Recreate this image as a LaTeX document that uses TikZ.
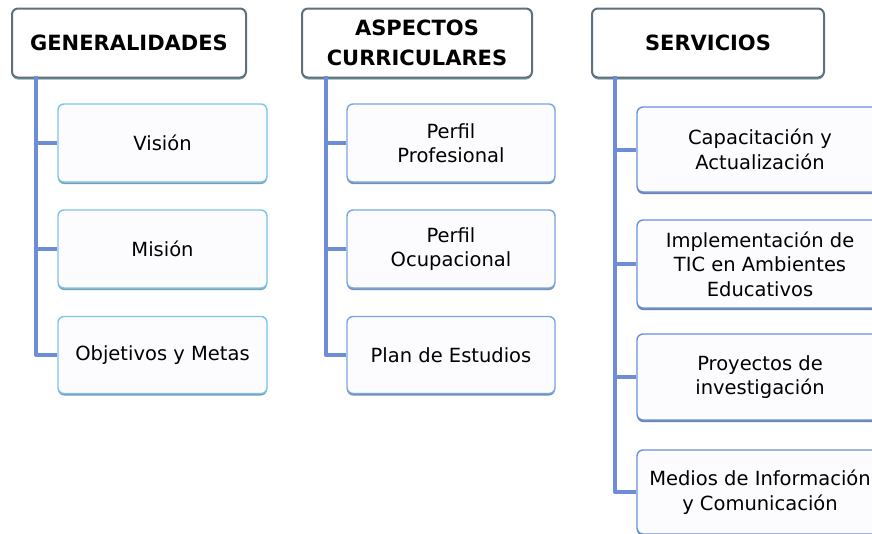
\documentclass[tikz,border=0pt]{standalone}
\usepackage{fontspec}
\setmainfont{DejaVu Sans}
\usetikzlibrary{shadows}
\definecolor{hdrborder}{HTML}{5E707C}
\definecolor{hdrshadow}{HTML}{86A6A8}
\definecolor{cA}{HTML}{7EC4E8}
\definecolor{cB}{HTML}{78A6E2}
\definecolor{cC}{HTML}{6690DA}
\definecolor{trunkcol}{HTML}{6E8DD6}
\definecolor{boxfill}{HTML}{FCFCFF}
\tikzset{
  hdr/.style={draw=hdrborder, line width=2pt, fill=white, rounded corners=6pt,
    minimum height=69pt, inner sep=0pt, align=center,
    font=\fontsize{21}{30}\selectfont\bfseries,
    drop shadow={shadow xshift=0pt, shadow yshift=-2pt, fill=hdrshadow, opacity=1}},
  child/.style={draw=#1, line width=1.4pt, fill=boxfill, rounded corners=6pt,
    inner sep=0pt, align=center, font=\fontsize{19.5}{24.5}\selectfont,
    drop shadow={shadow xshift=0pt, shadow yshift=-2pt, fill=#1!70!black, opacity=0.8}},
  trunk/.style={draw=trunkcol, line width=4pt, line join=round},
}
\begin{document}
\begin{tikzpicture}[x=1pt,y=-1pt]
\useasboundingbox (0,0) rectangle (872,533);
\clip (0,0) rectangle (872,533);
% trunk coordinates
\coordinate (t1) at (36,76);
\coordinate (t2) at (326,76);
\coordinate (t3) at (615,76);
% headers
\node[hdr, minimum width=234pt] (gen) at (129,43) {GENERALIDADES};
\node[hdr, minimum width=230pt] (asp) at (417,43) {ASPECTOS\\CURRICULARES};
\node[hdr, minimum width=232pt] (ser) at (708,43) {SERVICIOS};
% column 1
\node[child=cA, minimum width=209pt, minimum height=78pt] (vis) at (162.5,143) {Visión};
\node[child=cA, minimum width=209pt, minimum height=78pt] (mis) at (162.5,249) {Misión};
\node[child=cA, minimum width=209pt, minimum height=77pt] (obj) at (162.5,355) {Objetivos y Metas};
% column 2
\node[child=cB, minimum width=208pt, minimum height=78pt] (pp) at (451,143) {Perfil\\Profesional};
\node[child=cB, minimum width=208pt, minimum height=78pt] (po) at (451,249) {Perfil\\Ocupacional};
\node[child=cB, minimum width=208pt, minimum height=77pt] (pe) at (451,355) {Plan de Estudios};
% column 3
\node[child=cC, minimum width=246pt, minimum height=85pt] (cap) at (760,149.5) {Capacitación y\\Actualización};
\node[child=cC, minimum width=246pt, minimum height=88pt] (imp) at (760,264) {Implementación de\\TIC en Ambientes\\Educativos};
\node[child=cC, minimum width=246pt, minimum height=86pt] (pro) at (760,377) {Proyectos de\\investigación};
\node[child=cC, minimum width=246pt, minimum height=84pt] (med) at (760,492) {Medios de Información\\y Comunicación};
% trunks
\draw[trunk] (t1) |- (obj.west);
\draw[trunk] (vis.west) -- (vis.west -| t1);
\draw[trunk] (mis.west) -- (mis.west -| t1);
\draw[trunk] (t2) |- (pe.west);
\draw[trunk] (pp.west) -- (pp.west -| t2);
\draw[trunk] (po.west) -- (po.west -| t2);
\draw[trunk] (t3) |- (med.west);
\draw[trunk] (cap.west) -- (cap.west -| t3);
\draw[trunk] (imp.west) -- (imp.west -| t3);
\draw[trunk] (pro.west) -- (pro.west -| t3);
\end{tikzpicture}
\end{document}
